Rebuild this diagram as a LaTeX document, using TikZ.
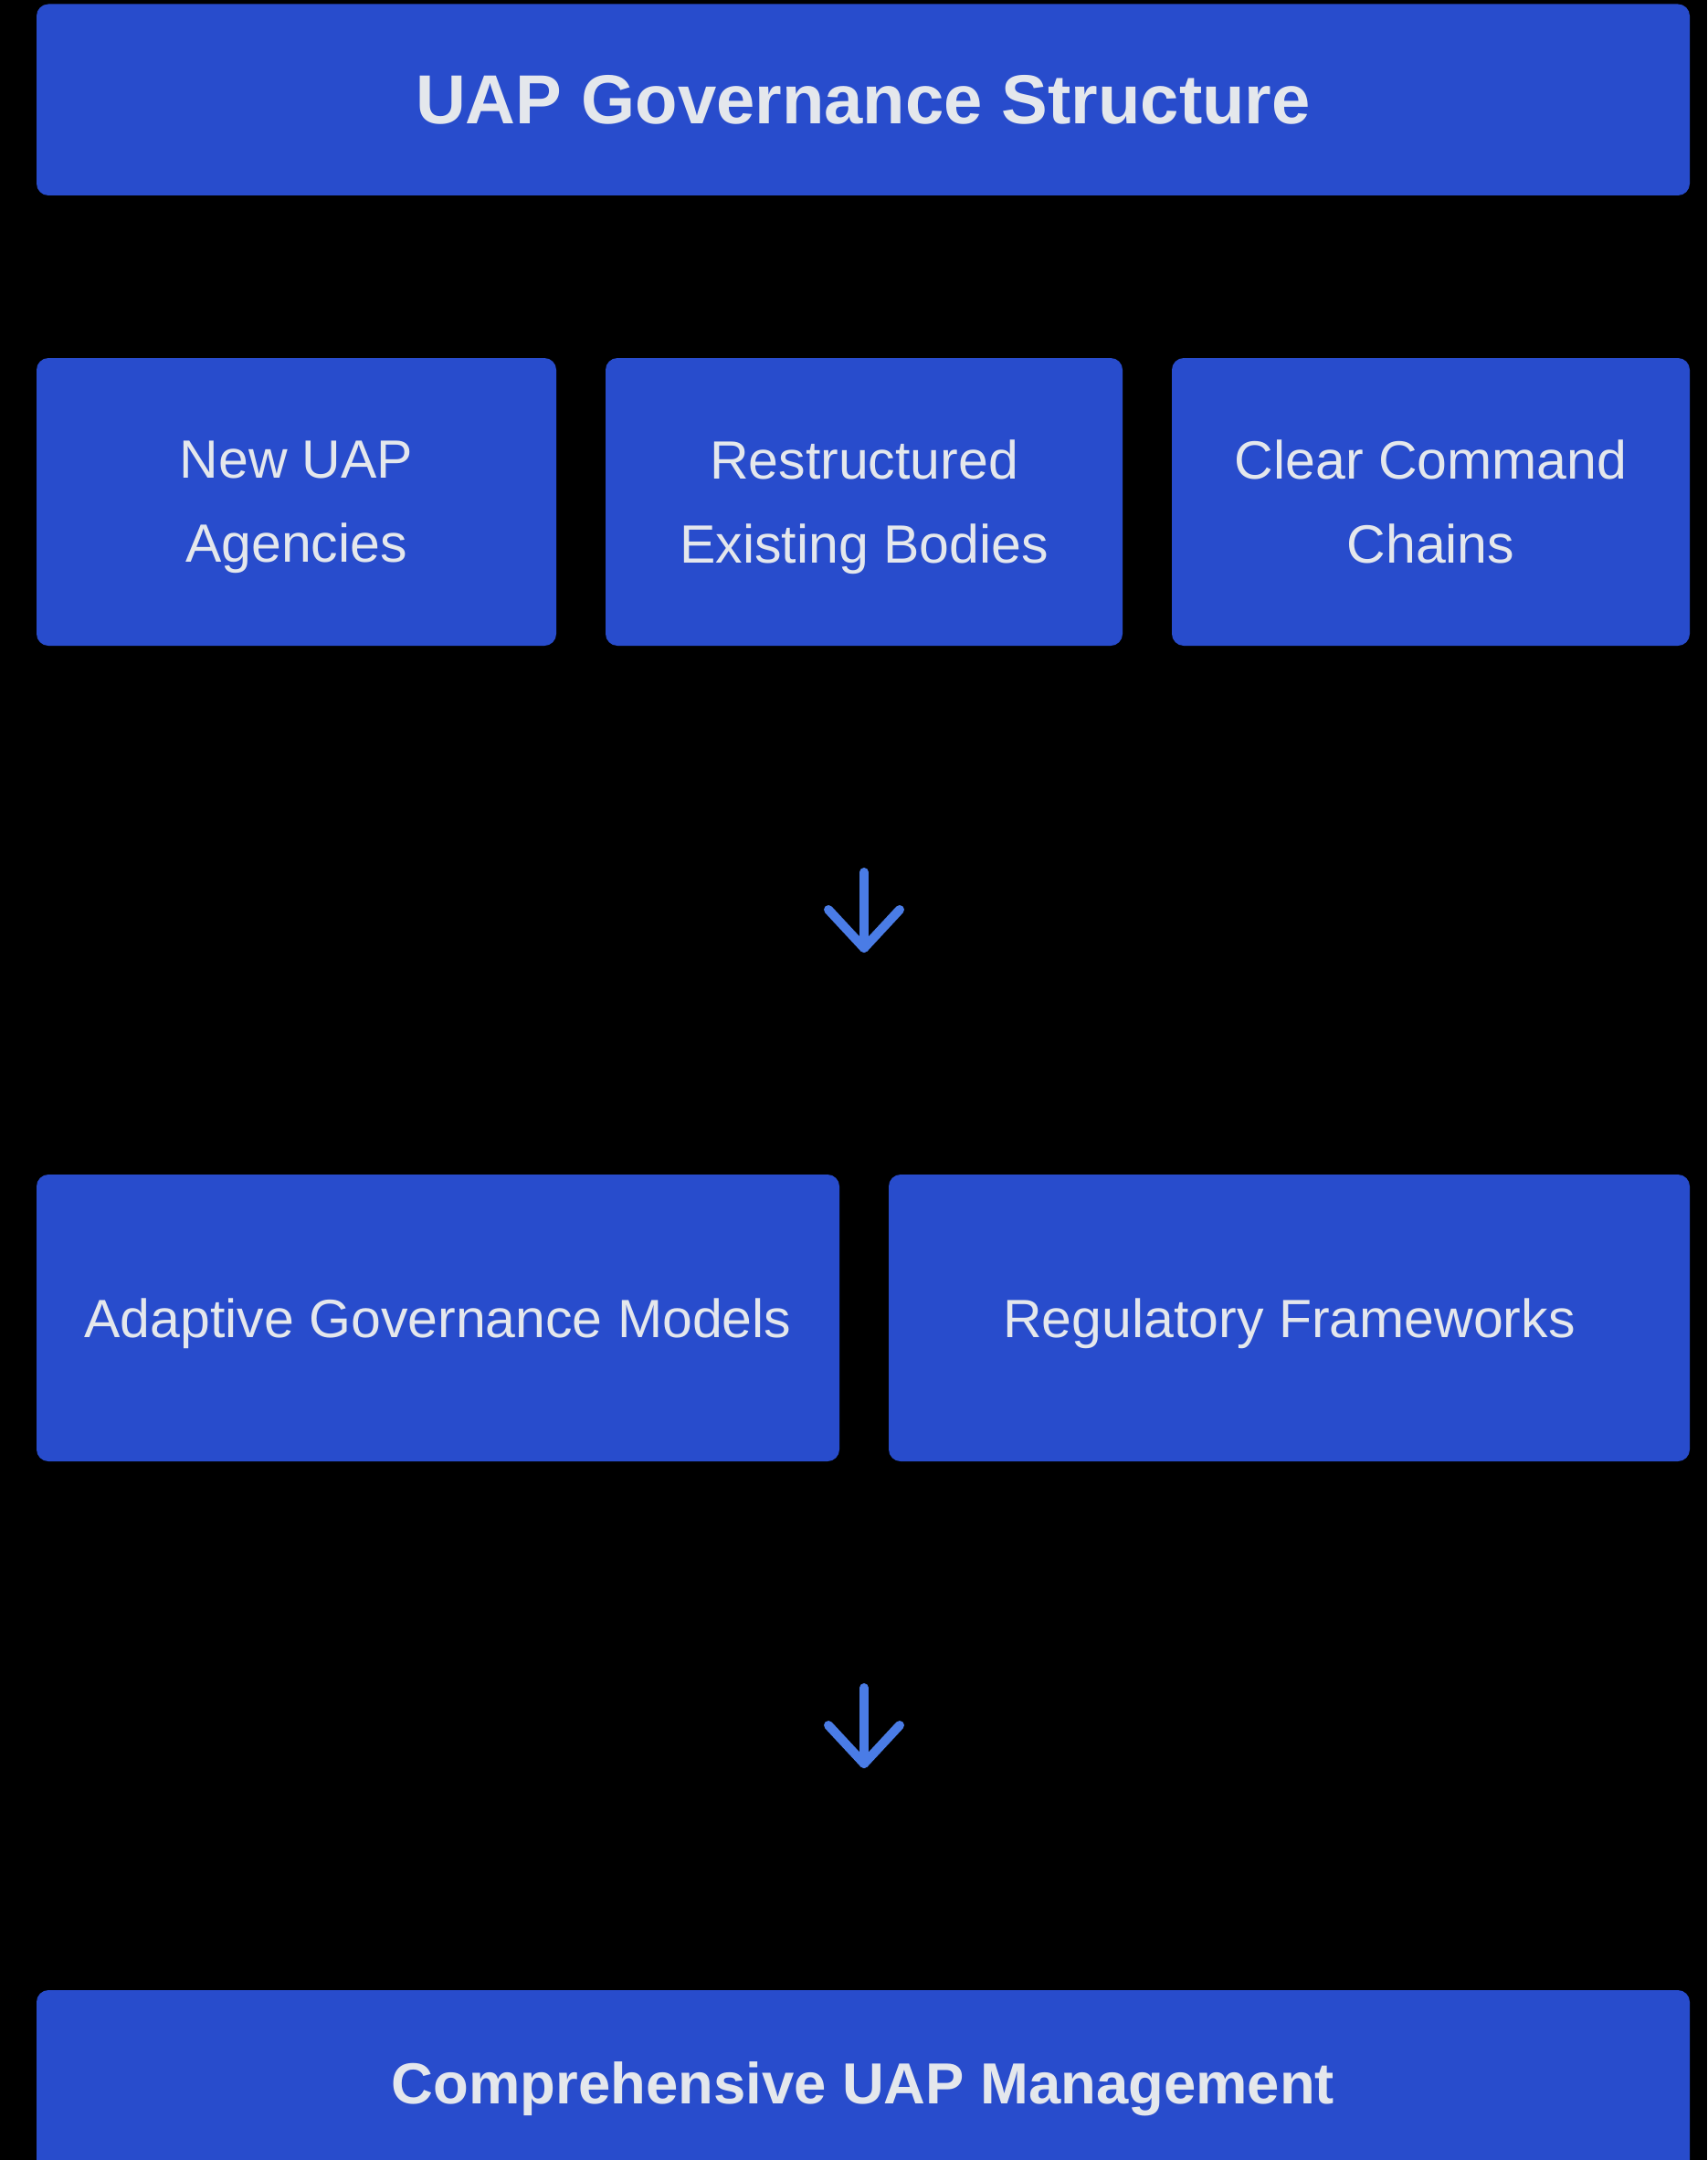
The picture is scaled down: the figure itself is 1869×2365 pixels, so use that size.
\documentclass[tikz,border=0pt]{standalone}
\usepackage{fontspec}
\setmainfont{Liberation Sans}
\usetikzlibrary{calc}
\definecolor{boxblue}{RGB}{40,76,204}
\definecolor{txtgray}{RGB}{228,231,236}
\definecolor{arrblue}{RGB}{74,124,230}
\tikzset{
  box/.style={fill=boxblue, draw=none, rounded corners=6.5pt, inner sep=0pt, text=txtgray, align=center, text depth=0pt},
  titlebox/.style={box, minimum width=905pt, font=\fontsize{38}{46}\selectfont\bfseries},
  stepbox/.style={box, font=\fontsize{29.5}{46}\selectfont},
  arr/.style={draw=arrblue, line width=5pt, line cap=round, line join=round}
}
\begin{document}
\begin{tikzpicture}[x=0.5pt,y=-0.5pt]
\path[use as bounding box, fill=black] (0,0) rectangle (1869,2365);
\clip (0,0) rectangle (1869,2365);
\node[titlebox, minimum height=104.75pt] (title) at (945,109.25) {UAP Governance Structure};
\node[stepbox, minimum width=284.5pt, minimum height=157.5pt] (b1) at (324.5,549.5) {New UAP\\Agencies};
\node[stepbox, minimum width=283pt, minimum height=157.5pt] (b2) at (946,549.5) {Restructured\\Existing Bodies};
\node[stepbox, minimum width=283.5pt, minimum height=157.5pt] (b3) at (1566.5,549.5) {Clear Command\\Chains};
\node[stepbox, minimum width=439.5pt, minimum height=157pt] (c1) at (479.5,1443) {Adaptive Governance Models};
\node[stepbox, minimum width=438.5pt, minimum height=157pt] (c2) at (1411.5,1443) {Regulatory Frameworks};
\node[titlebox, minimum height=101pt, font=\fontsize{31.7}{40}\selectfont\bfseries] (final) at (945,2280) {Comprehensive UAP Management};
% arrows
\coordinate (a1s) at (946,955);
\coordinate (a1e) at (946,1038);
\coordinate (a2s) at (946,1848);
\coordinate (a2e) at (946,1931);
\draw[arr] (a1s) -- (a1e);
\draw[arr] ($(a1e)+(-39,-42)$) -- (a1e) -- ($(a1e)+(39,-42)$);
\draw[arr] (a2s) -- (a2e);
\draw[arr] ($(a2e)+(-39,-42)$) -- (a2e) -- ($(a2e)+(39,-42)$);
\end{tikzpicture}
\end{document}
